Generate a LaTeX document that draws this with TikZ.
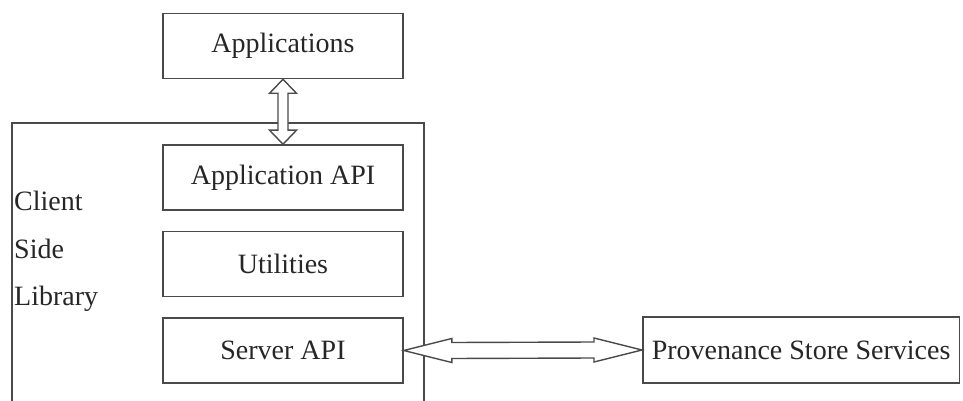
\documentclass[tikz,border=0pt]{standalone}
\usepackage{fontspec}
\newfontfamily\timesface{Liberation Serif}
\usetikzlibrary{calc}
\definecolor{linegray}{HTML}{4A4A4A}
\begin{document}
\begin{tikzpicture}[x=1pt,y=-1pt,
  every node/.style={font=\timesface\fontsize{28}{34}\selectfont, text=black!85},
  layer/.style={draw=linegray, line width=1.6pt, minimum width=240pt, minimum height=65pt, inner sep=0pt},
  widearrow/.style={draw=linegray, line width=1.4pt, fill=white, line join=miter}]
  \useasboundingbox (0,0) rectangle (963,401);

  % client side library container (open at the bottom)
  \coordinate (libTL) at (12,123);
  \coordinate (libTR) at (424,123);
  \draw[linegray, line width=1.6pt] ($(libTL)+(0,290)$) -- (libTL) -- (libTR) -- ($(libTR)+(0,290)$);
  \node[anchor=base west, inner sep=0pt] (lc) at (14,210) {Client};
  \node[anchor=base west, inner sep=0pt] (ls) at (14,258) {Side};
  \node[anchor=base west, inner sep=0pt] (ll) at (14,305) {Library};

  % layers
  \node[layer] (app) at (283,46) {Applications};
  \node[layer] (api) at (283,177.5) {Application API};
  \node[layer] (util) at (283,264) {Utilities};
  \node[layer] (srv) at (283,350.5) {Server API};
  \node[draw=linegray, line width=1.6pt, minimum height=66pt, inner sep=9pt, anchor=west] (prov) at (642,350) {Provenance Store Services};

  % double-headed block arrows
  \draw[widearrow] (app.south) -- ++(-13.5,14) -- ++(8.5,0) -- ($(api.north)+(-5,-14)$) -- ++(-8.5,0)
    -- (api.north) -- ++(13.5,-14) -- ++(-8.5,0) -- ($(app.south)+(5,14)$) -- ++(8.5,0) -- cycle;
  \draw[widearrow] (srv.east) -- ++(48,-12) -- ++(0,4) -- ($(prov.west)+(-48,-8)$) -- ++(0,-4)
    -- (prov.west) -- ++(-48,12) -- ++(0,-4) -- ($(srv.east)+(48,8)$) -- ++(0,4) -- cycle;
\end{tikzpicture}
\end{document}
